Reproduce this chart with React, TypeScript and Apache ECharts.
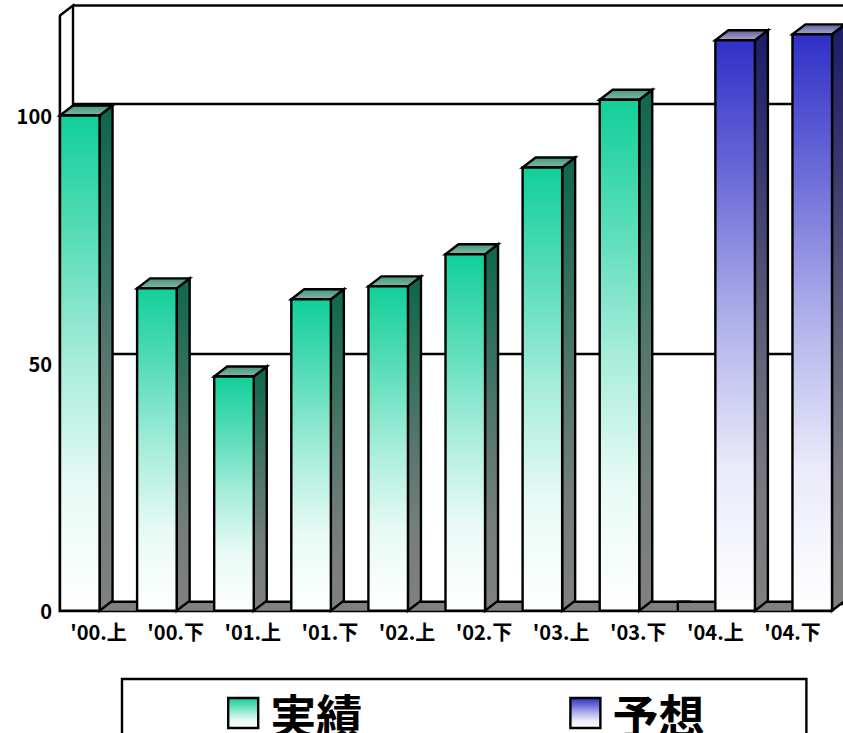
import React, { useEffect, useRef } from "react";
import * as echarts from "echarts";

const categories = ["'00.上", "'00.下", "'01.上", "'01.下", "'02.上", "'02.下", "'03.上", "'03.下", "'04.上", "'04.下"];
const actualValues = [100, 65.1, 47.3, 62.9, 65.5, 72, 89.5, 103.2, 0, 0];
const forecastValues = [0, 0, 0, 0, 0, 0, 0, 0, 115.2, 116.4];
const yTicks = [0, 50, 100];

const FONT = '"Noto Sans CJK JP", sans-serif';
const DX = 13;
const DY = 10;
const LW = 2.4;

const hex = (c: string) => [1, 3, 5].map((p) => parseInt(c.slice(p, p + 2), 16));
const mix = (a: string, b: string, t: number) => {
  const A = hex(a);
  const B = hex(b);
  return `rgb(${A.map((n, i) => Math.round(n + (B[i] - n) * t)).join(",")})`;
};
// the reference's fill reaches its end colour early, so it is eased rather than linear
const v = (a: string, b: string) =>
  new echarts.graphic.LinearGradient(0, 0, 0, 1, [
    { offset: 0, color: a },
    { offset: 0.25, color: mix(a, b, 0.3) },
    { offset: 0.5, color: mix(a, b, 0.63) },
    { offset: 0.75, color: mix(a, b, 0.9) },
    { offset: 1, color: b },
  ]);
const top = (a: string, b: string) =>
  new echarts.graphic.LinearGradient(0, 0, 0, 1, [
    { offset: 0, color: a },
    { offset: 1, color: b },
  ]);

const palette: Record<string, any> = {
  actual: { front: ["#12cf9a", "#ffffff"], side: ["#0d674d", "#808080"], top: ["#3a9b80", "#8fb3a7"] },
  forecast: { front: ["#3030c8", "#ffffff"], side: ["#1c1c68", "#808080"], top: ["#5f5fa0", "#a9a9c8"] },
};

function bars(seriesPos: number, colors: any) {
  return (params: any, api: any) => {
    const i = api.value(0);
    const val = api.value(1);
    const [cx, yTop] = api.coord([i, val]);
    const [, y0] = api.coord([i, 0]);
    const slot = api.size([1, 0])[0];
    const w = slot / 2 + 1;
    const x = cx - slot / 2 + (seriesPos * slot) / 2;
    const line = { stroke: "#000", lineWidth: LW, lineJoin: "miter" };
    if (val === 0) {
      return {
        type: "group",
        children: [
          {
            type: "polygon",
            z2: 1,
            shape: { points: [[x, y0], [x + DX, y0 - DY + 1], [x + w + DX, y0 - DY + 1], [x + w, y0]] },
            style: { fill: "#808080", stroke: null },
          },
          {
            type: "line",
            z2: 2,
            shape: { x1: x, y1: y0 - DY + 1, x2: x + w + DX, y2: y0 - DY + 1 },
            style: line,
          },
          {
            type: "line",
            z2: 2,
            shape: { x1: x + w, y1: y0, x2: x + w, y2: y0 - DY + 1 },
            style: line,
          },
        ],
      };
    }
    return {
      type: "group",
      children: [
        {
          type: "polygon",
          z2: 10,
          shape: { points: [[x + w, yTop], [x + w + DX, yTop - DY], [x + w + DX, y0 - DY], [x + w, y0]] },
          style: { fill: v(colors.side[0], colors.side[1]), ...line },
        },
        {
          type: "polygon",
          z2: 10,
          shape: { points: [[x, yTop], [x + DX, yTop - DY], [x + w + DX, yTop - DY], [x + w, yTop]] },
          style: { fill: top(colors.top[0], colors.top[1]), ...line },
        },
        {
          type: "rect",
          z2: 11,
          shape: { x, y: yTop, width: w, height: y0 - yTop },
          style: { fill: v(colors.front[0], colors.front[1]), ...line },
        },
      ],
    };
  };
}

export default function App() {
  const ref = useRef<HTMLDivElement>(null);
  useEffect(() => {
    document.body.style.margin = "0";
    const chart = echarts.init(ref.current!, undefined, { renderer: "svg" });
    chart.setOption({
      animation: false,
      backgroundColor: "#ffffff",
      textStyle: { fontFamily: FONT },
      grid: [
        { left: 60, top: 16.5, width: 771, height: 594.2, containLabel: false, z: 1 },
        { left: 73, top: 104, width: 771, height: 500, show: false, z: 0 },
      ],
      xAxis: [
        {
          type: "category",
          gridIndex: 0,
          data: categories,
          axisTick: { show: false },
          axisLine: { show: true, lineStyle: { color: "#000", width: LW } },
          axisLabel: { color: "#000", fontFamily: FONT, fontWeight: "bold", fontSize: 20, margin: 11, interval: 0 },
        },
        { type: "category", gridIndex: 1, data: categories, show: false },
      ],
      yAxis: [
        {
          type: "value",
          gridIndex: 0,
          min: 0,
          max: 120,
          interval: 50,
          splitLine: { show: false },
          axisTick: { show: false },
          axisLine: { show: true, onZero: false, lineStyle: { color: "#000", width: LW } },
          axisLabel: {
            color: "#000",
            fontFamily: FONT,
            fontWeight: "bold",
            fontSize: 20,
            margin: 8,
            formatter: (val: number) => (yTicks.includes(val) ? String(val) : ""),
          },
        },
        {
          type: "value",
          gridIndex: 1,
          min: 0,
          max: 100,
          interval: 50,
          axisLine: { show: false },
          axisTick: { show: false },
          axisLabel: { show: false },
          splitLine: { show: true, lineStyle: { color: "#000", width: LW } },
        },
      ],
      graphic: [
        {
          type: "polygon",
          z: 1,
          shape: { points: [[60, 15.5], [73, 5.5], [73, 601.5], [60, 610.5]] },
          style: { fill: "#fff", stroke: "#000", lineWidth: LW },
        },
        {
          type: "line",
          z: 1,
          shape: { x1: 73, y1: 5.5, x2: 843, y2: 5.5 },
          style: { stroke: "#000", lineWidth: LW },
        },
      ],
      legend: {
        show: true,
        left: 122,
        top: 679,
        orient: "horizontal",
        padding: [11, 102, 11, 105],
        borderColor: "#000",
        borderWidth: LW,
        backgroundColor: "#fff",
        itemWidth: 30,
        itemHeight: 30,
        itemGap: 207,
        icon: "rect",
        textStyle: { color: "#000", fontSize: 46, fontWeight: "bold", fontFamily: FONT, padding: [0, 0, 0, 7] },
        data: [
          { name: "実績", itemStyle: { color: v("#12cf9a", "#ffffff"), borderColor: "#000", borderWidth: LW } },
          { name: "予想", itemStyle: { color: v("#3030c8", "#ffffff"), borderColor: "#000", borderWidth: LW } },
        ],
      },
      series: [
        {
          name: "実績",
          type: "custom",
          clip: false,
          z: 3,
          xAxisIndex: 0,
          yAxisIndex: 0,
          renderItem: bars(0, palette.actual),
          encode: { x: 0, y: 1 },
          data: actualValues.map((val, i) => [i, val]),
        },
        {
          name: "予想",
          type: "custom",
          clip: false,
          z: 3,
          xAxisIndex: 0,
          yAxisIndex: 0,
          renderItem: bars(1, palette.forecast),
          encode: { x: 0, y: 1 },
          data: forecastValues.map((val, i) => [i, val]),
        },
      ],
    });
    return () => chart.dispose();
  }, []);
  return <div ref={ref} style={{ width: 843, height: 733, overflow: "hidden" }} />;
}
